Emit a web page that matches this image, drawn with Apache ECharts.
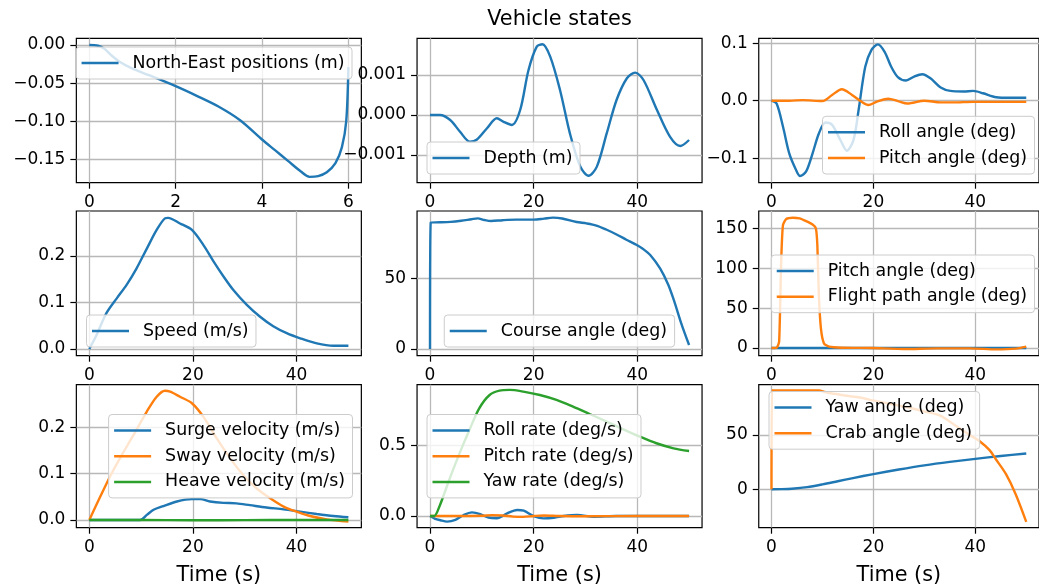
<!DOCTYPE html>
<html><head><meta charset="utf-8">
<script src="https://cdn.jsdelivr.net/npm/echarts@6/dist/echarts.min.js"></script>
<style>html,body{margin:0;padding:0;background:#fff}#c{width:1039px;height:587px}</style>
</head><body><div id="c"></div>
<script>
// ---------- data ----------
const neEast  = [0, 0.2, 0.35, 0.5, 0.7, 1.0, 1.4, 2.0, 2.5, 3.0, 3.5, 4.0, 4.3, 4.6, 4.9, 5.1, 5.3, 5.5, 5.7, 5.85, 5.95, 6.0];
const neNorth = [0, -0.001, -0.005, -0.013, -0.022, -0.031, -0.04, -0.054, -0.067, -0.081, -0.099, -0.124, -0.138, -0.152, -0.166, -0.173, -0.172, -0.167, -0.155, -0.134, -0.1, -0.029];

const depthT = [0, 1.9, 3.9, 5.8, 7.7, 9, 11, 12.9, 14.2, 15.8, 17.4, 19, 20.6, 21.7, 23.2, 25.1, 27, 29, 30.6, 32.2, 34.1, 36, 38, 39.6, 41.2, 43.8, 46.3, 48.3, 50];
const depthV = [0, 0, -0.000125, -0.00042, -0.00067, -0.00062, -0.00033, -0.00008, -0.00017, -0.00025, 0.000125, 0.00112, 0.00171, 0.00177, 0.00146, 0.00062, -0.00046, -0.00129, -0.00152, -0.00129, -0.00046, 0.000375, 0.00092, 0.00106, 0.000875, 0.000125, -0.00054, -0.000775, -0.000625];

const rollT = [0, 1, 2.25, 3.5, 4.8, 5.6, 6.8, 8.05, 9.3, 10.6, 11.9, 13.5, 14.8, 16.1, 17.1, 18.4, 19.6, 20.9, 22.2, 23.5, 24.8, 26.4, 28, 29.6, 31.2, 33.2, 35.1, 37.7, 39.6, 41.5, 44.1, 46.7, 50];
const rollV = [0, -0.005, -0.045, -0.092, -0.12, -0.131, -0.123, -0.092, -0.057, -0.038, -0.042, -0.068, -0.087, -0.068, -0.016, 0.059, 0.088, 0.098, 0.085, 0.059, 0.041, 0.035, 0.042, 0.046, 0.039, 0.023, 0.017, 0.016, 0.017, 0.013, 0.006, 0.005, 0.005];

const pitchT = [0, 3.5, 6.1, 10, 11.9, 13.8, 15.8, 17.7, 19, 20.6, 22.9, 24.8, 26.7, 30, 33.2, 35.7, 39.6, 50];
const pitchV = [0, 0, 0.001, -0.0006, 0.01, 0.02, 0.01, -0.002, -0.0075, -0.002, 0.0035, -0.0006, -0.005, 0, -0.003, -0.003, -0.002, -0.002];

const speedT = [0, 1.4, 3.3, 5.3, 7.2, 9.1, 11.1, 13, 14.6, 15.2, 17.5, 19.8, 22, 24, 25.9, 27.8, 30.4, 32.9, 35.5, 38.1, 40.7, 43.9, 47.1, 50];
const speedV = [0, 0.03, 0.077, 0.109, 0.138, 0.173, 0.216, 0.256, 0.281, 0.282, 0.27, 0.256, 0.224, 0.188, 0.156, 0.127, 0.095, 0.07, 0.049, 0.034, 0.023, 0.012, 0.007, 0.007];

const courseT = [0, 0.15, 0.15, 2, 4, 6, 8, 9.2, 10.5, 11.8, 14, 16.6, 20, 22, 23.7, 25.5, 28.3, 30.2, 32.1, 34, 36, 37.9, 39.9, 41.2, 42.5, 44.4, 46, 47.2, 48.5, 50];
const courseV = [0, 89.5, 89.5, 89.6, 89.9, 90.7, 91.8, 92.4, 91.2, 90.5, 91.1, 91.5, 91.5, 92.2, 92.9, 92.3, 89.8, 88.8, 87.3, 84.5, 81, 77.3, 73.5, 70.5, 66.5, 57, 45.3, 33, 18, 2.8];

const fpaT = [0, 1, 1.5, 1.9, 2.25, 2.9, 4.2, 5.5, 6.8, 8, 8.7, 9, 9.3, 9.7, 10.3, 11.3, 13.8, 19.6, 26, 32.5, 39, 44.1, 48, 50];
const fpaV = [0, 0.4, 8, 108, 154, 161.7, 163.3, 162.5, 159, 155, 150, 129, 66, 24.6, 5.8, 1.7, 0.4, 0, -1.2, -0.4, -0.4, -1.7, -0.8, 1.7];

const surgeT = [0, 9.8, 11.1, 12.4, 14.3, 16.9, 19.8, 21.4, 23.3, 25.9, 28.4, 31, 34.2, 37.5, 40.7, 43.9, 47.1, 50];
const surgeV = [0, 0, 0.011, 0.022, 0.03, 0.04, 0.045, 0.045, 0.04, 0.037, 0.036, 0.032, 0.027, 0.023, 0.018, 0.013, 0.0086, 0.0058];
const swayT = [0, 2.1, 4, 5.9, 8.5, 11.1, 13, 14.6, 15.6, 17.5, 19.8, 22, 24.6, 27.2, 29.7, 32.3, 34.9, 37.5, 40, 42.6, 45.8, 50];
const swayV = [0, 0.05, 0.094, 0.133, 0.183, 0.234, 0.266, 0.279, 0.277, 0.266, 0.252, 0.223, 0.176, 0.133, 0.097, 0.068, 0.047, 0.029, 0.018, 0.0086, 0.0014, -0.0036];
const heaveT = [0, 10, 20, 30, 40, 50];
const heaveV = [0, 0, -0.0005, -0.0003, 0, 0];

const rollRateT = [0, 1, 2, 3.3, 4.9, 6.5, 8.1, 9.7, 11.3, 12.9, 14.9, 16.8, 18.1, 20, 21.9, 23.9, 25.8, 28.4, 31.6, 36, 50];
const rollRateV = [0, -0.02, -0.03, -0.04, -0.028, 0.007, 0.026, 0.014, -0.012, -0.016, 0.019, 0.043, 0.038, 0, -0.017, -0.012, 0, 0.007, -0.005, 0, 0];
const pitchRateT = [0, 5, 10, 12, 14, 16, 18, 20, 22, 25, 30, 40, 50];
const pitchRateV = [0, 0, 0.002, 0.006, 0.004, -0.004, -0.006, 0, 0.004, 0, -0.002, 0, 0];
const yawRateT = [0, 0.8, 1.8, 3.7, 5.7, 7.6, 9.5, 11.5, 13.4, 15.4, 18, 21.2, 24.4, 27.6, 30.8, 34.1, 37.3, 40.5, 43.7, 47, 50];
const yawRateV = [0, 0, 0.066, 0.256, 0.445, 0.611, 0.765, 0.86, 0.891, 0.896, 0.884, 0.86, 0.825, 0.777, 0.725, 0.671, 0.616, 0.564, 0.517, 0.481, 0.462];

const yawT = [0, 2, 4, 7, 10, 13, 16, 20, 25, 30, 35, 40, 45, 50];
const yawV = [0, 0.1, 0.5, 2, 4.5, 7.4, 10.3, 14, 18.2, 22, 25.2, 28, 30.6, 33];
const crabT = [0, 0.1, 0.1, 4, 9.3, 10.6, 13.8, 17, 20.2, 23.4, 26.7, 29.9, 33.1, 36.3, 38.9, 40.8, 42.8, 44, 46, 47.9, 50];
const crabV = [0, 91, 91, 91, 91, 89.3, 86.8, 84.7, 81.6, 78.5, 75.5, 71.8, 67.8, 58, 50, 44.5, 36, 27.9, 14.1, -4.3, -30];

// tick labels
const xTicksNE = [0, 2, 4, 6];
const xTicksTime = [0, 20, 40];
const yTicks = [
  [0, -0.05, -0.10, -0.15],
  [-0.001, 0, 0.001],
  [-0.1, 0, 0.1],
  [0, 0.1, 0.2],
  [0, 50],
  [0, 50, 100, 150],
  [0, 0.1, 0.2],
  [0, 0.5],
  [0, 50]
];
const yDecimals = [2, 3, 1, 1, 0, 0, 1, 1, 0];
const legendLabels = {
  ne: 'North-East positions (m)', depth: 'Depth (m)', roll: 'Roll angle (deg)', pitch3: 'Pitch angle (deg)',
  speed: 'Speed (m/s)', course: 'Course angle (deg)', pitch6: 'Pitch angle (deg)', fpa: 'Flight path angle (deg)',
  surge: 'Surge velocity (m/s)', sway: 'Sway velocity (m/s)', heave: 'Heave velocity (m/s)',
  rollRate: 'Roll rate (deg/s)', pitchRate: 'Pitch rate (deg/s)', yawRate: 'Yaw rate (deg/s)',
  yaw: 'Yaw angle (deg)', crab: 'Crab angle (deg)'
};
const titleText = 'Vehicle states';
const xName = 'Time (s)';

// ---------- layout ----------
const FONT = 'DejaVu Sans';
const C1 = '#1f77b4', C2 = '#ff7f0e', C3 = '#2ca02c';
const colLeft = [76.35, 417.05, 758.75];
const colW = 285;
const rowTop = [38.3, 211, 384.7];
const rowH = [144.4, 144.7, 143];
const yRange = [
  [-0.1807, 0.0088], [-0.0016925, 0.0019175], [-0.1426, 0.1085],
  [-0.0144, 0.2968], [-4.74, 97.6], [-9.6, 171.7],
  [-0.0166, 0.292], [-0.083, 0.933], [-35.4, 96.3]
];

function zip(t, v) { return t.map((x, i) => [x, v[i]]); }
function fmt(v, d) { const s = Math.abs(v).toFixed(d); return (v < -1e-12 ? '\u2212' : '') + s; }

const grids = [], xAxes = [], yAxes = [];
for (let i = 0; i < 9; i++) {
  const r = Math.floor(i / 3), c = i % 3;
  grids.push({ left: colLeft[c], top: rowTop[r], width: colW, height: rowH[r],
    show: true, borderColor: '#000', borderWidth: 1.2, backgroundColor: 'transparent', containLabel: false });
  const xt = i === 0 ? xTicksNE : xTicksTime;
  xAxes.push({
    type: 'value', gridIndex: i,
    min: i === 0 ? -0.3 : -2.5, max: i === 0 ? 6.3 : 52.5,
    axisLine: { show: false, onZero: false },
    axisTick: { show: true, length: 6, lineStyle: { color: '#000', width: 1.2 }, customValues: xt },
    axisLabel: { customValues: xt, margin: 11, color: '#000', fontFamily: FONT, fontSize: 17, formatter: v => fmt(v, 0) },
    splitLine: { show: true, lineStyle: { color: '#b8b8b8', width: 1.3 } },
    name: r === 2 ? xName : '', nameLocation: 'middle', nameGap: 37,
    nameTextStyle: { fontFamily: FONT, fontSize: 20.8, color: '#000' }
  });
  const d = yDecimals[i];
  yAxes.push({
    type: 'value', gridIndex: i, min: yRange[i][0], max: yRange[i][1],
    axisLine: { show: false, onZero: false },
    axisTick: { show: true, length: 6, lineStyle: { color: '#000', width: 1.2 }, customValues: yTicks[i] },
    axisLabel: { customValues: yTicks[i], margin: 11, color: '#000', fontFamily: FONT, fontSize: 17, formatter: v => fmt(v, d) },
    splitLine: { show: true, lineStyle: { color: '#b8b8b8', width: 1.3 } }
  });
}

function line(name, idx, t, v, color, smooth) {
  return { type: 'line', name, xAxisIndex: idx, yAxisIndex: idx, data: zip(t, v),
    symbol: 'none', showSymbol: false, smooth: smooth === undefined ? 0.3 : smooth,
    lineStyle: { width: 2.4, color }, itemStyle: { color }, clip: true, emphasis: { disabled: true } };
}

const series = [
  line('ne', 0, neEast, neNorth, C1),
  line('depth', 1, depthT, depthV, C1),
  line('roll', 2, rollT, rollV, C1),
  line('pitch3', 2, pitchT, pitchV, C2),
  line('speed', 3, speedT, speedV, C1),
  line('course', 4, courseT, courseV, C1),
  line('pitch6', 5, pitchT, pitchV, C1),
  line('fpa', 5, fpaT, fpaV, C2, 0.2),
  line('surge', 6, surgeT, surgeV, C1),
  line('sway', 6, swayT, swayV, C2),
  line('heave', 6, heaveT, heaveV, C3),
  line('rollRate', 7, rollRateT, rollRateV, C1),
  line('pitchRate', 7, pitchRateT, pitchRateV, C2),
  line('yawRate', 7, yawRateT, yawRateV, C3),
  line('yaw', 8, yawT, yawV, C1),
  line('crab', 8, crabT, crabV, C2)
];

function legend(names, pos) {
  return Object.assign({
    data: names, orient: 'vertical', selectedMode: false,
    icon: 'path://M0 0H148V10H0Z', itemWidth: 37, itemHeight: 18, itemGap: 7.7,
    padding: [7, 7.5, 7, 5.5],
    backgroundColor: 'rgba(255,255,255,0.8)', borderColor: '#cccccc', borderWidth: 1, borderRadius: 3.5,
    formatter: n => legendLabels[n],
    textStyle: { fontFamily: FONT, fontSize: 17.4, color: '#000', lineHeight: 18, padding: [0, 0, 0, 9] },
    z: 10
  }, pos);
}

const legends = [
  legend(['ne'], { right: 687, top: 47 }),
  legend(['depth'], { left: 427, top: 142 }),
  legend(['roll', 'pitch3'], { right: 4.5, top: 116.3 }),
  legend(['speed'], { left: 86.5, top: 315 }),
  legend(['course'], { left: 444.25, top: 315 }),
  legend(['pitch6', 'fpa'], { right: 4.5, top: 255 }),
  legend(['surge', 'sway', 'heave'], { right: 686.5, top: 414.5 }),
  legend(['rollRate', 'pitchRate', 'yawRate'], { left: 427, top: 414.5 }),
  legend(['yaw', 'crab'], { left: 769, top: 391.5 })
];

const chart = echarts.init(document.getElementById('c'), null, { renderer: 'canvas' });
chart.setOption({
  animation: false,
  backgroundColor: '#fff',
  textStyle: { fontFamily: FONT },
  title: { text: titleText, left: 559.5, top: 9, textAlign: 'center', padding: 0,
    textStyle: { fontFamily: FONT, fontSize: 20.8, fontWeight: 'normal', color: '#000' } },
  grid: grids, xAxis: xAxes, yAxis: yAxes, legend: legends, series
});
</script></body></html>
